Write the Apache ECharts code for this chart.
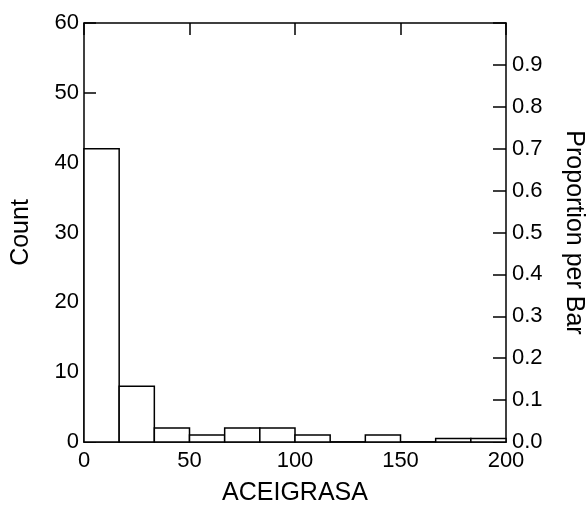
<!DOCTYPE html>
<html>
<head>
<meta charset="utf-8">
<script src="https://cdn.jsdelivr.net/npm/echarts@6/dist/echarts.min.js"></script>
<style>html,body{margin:0;padding:0;background:#fff;}#c{width:587px;height:510px;}</style>
</head>
<body>
<div id="c"></div>
<script>
// Histogram of ACEIGRASA: bin edges and counts
var binStart = [0, 16.667, 33.333, 50, 66.667, 83.333, 100, 116.667, 133.333, 150, 166.667, 183.333];
var binEnd   = [16.667, 33.333, 50, 66.667, 83.333, 100, 116.667, 133.333, 150, 166.667, 183.333, 200];
var counts   = [42, 8, 2, 1, 2, 2, 1, 0, 1, 0, 0.5, 0.5];
var xTicks = [0, 50, 100, 150, 200];
var countTicks = [0, 10, 20, 30, 40, 50, 60];
var propTicks = [0.0, 0.1, 0.2, 0.3, 0.4, 0.5, 0.6, 0.7, 0.8, 0.9];

var data = binStart.map(function (s, i) { return [s, binEnd[i], counts[i]]; });
var font = 'Liberation Sans, Arial, Helvetica, sans-serif';

var chart = echarts.init(document.getElementById('c'), null, {renderer: 'canvas'});
chart.setOption({
  animation: false,
  backgroundColor: '#fff',
  grid: {left: 84, right: 81, top: 23, bottom: 68, containLabel: false, outerBoundsMode: 'none'},
  xAxis: [{
    type: 'value', min: xTicks[0], max: xTicks[xTicks.length - 1], interval: 50,
    position: 'bottom',
    name: 'ACEIGRASA', nameLocation: 'middle', nameGap: 39,
    nameTextStyle: {fontFamily: font, fontSize: 25, color: '#000'},
    axisLine: {show: true, onZero: false, lineStyle: {color: '#000', width: 1.5}},
    axisTick: {show: false},
    axisLabel: {fontFamily: font, fontSize: 22, color: '#000', margin: 8},
    splitLine: {show: false}
  }, {
    type: 'value', min: xTicks[0], max: xTicks[xTicks.length - 1], interval: 50,
    position: 'top',
    axisLine: {show: true, onZero: false, lineStyle: {color: '#000', width: 1.5}},
    axisTick: {show: true, inside: true, length: 12, lineStyle: {color: '#000', width: 1.5}},
    axisLabel: {show: false},
    splitLine: {show: false}
  }],
  yAxis: [{
    type: 'value', min: countTicks[0], max: countTicks[countTicks.length - 1], interval: 10,
    position: 'left',
    name: 'Count', nameLocation: 'middle', nameGap: 50, nameRotate: 90,
    nameTextStyle: {fontFamily: font, fontSize: 25, color: '#000'},
    axisLine: {show: true, onZero: false, lineStyle: {color: '#000', width: 1.5}},
    axisTick: {show: true, inside: true, length: 12, lineStyle: {color: '#000', width: 1.5}},
    axisLabel: {fontFamily: font, fontSize: 22, color: '#000', margin: 5},
    splitLine: {show: false}
  }, {
    type: 'value', min: 0, max: 1.0, interval: 0.1,
    position: 'right',
    name: 'Proportion per Bar', nameLocation: 'middle', nameGap: 55, nameRotate: -90,
    nameTextStyle: {fontFamily: font, fontSize: 25, color: '#000'},
    axisLine: {show: true, onZero: false, lineStyle: {color: '#000', width: 1.5}},
    axisTick: {show: true, inside: true, length: 13, lineStyle: {color: '#000', width: 1.5}},
    axisLabel: {
      fontFamily: font, fontSize: 22, color: '#000', margin: 6,
      formatter: function (v) {
        for (var i = 0; i < propTicks.length; i++) {
          if (Math.abs(propTicks[i] - v) < 1e-6) return propTicks[i].toFixed(1);
        }
        return '';
      }
    },
    splitLine: {show: false}
  }],
  series: [{
    type: 'custom',
    xAxisIndex: 0, yAxisIndex: 0,
    data: data,
    encode: {x: [0, 1], y: 2},
    renderItem: function (params, api) {
      var p0 = api.coord([api.value(0), api.value(2)]);
      var p1 = api.coord([api.value(1), 0]);
      return {
        type: 'rect',
        shape: {x: p0[0], y: p0[1], width: p1[0] - p0[0], height: p1[1] - p0[1]},
        style: {fill: '#fff', stroke: '#000', lineWidth: 1.5}
      };
    }
  }]
});
</script>
</body>
</html>
